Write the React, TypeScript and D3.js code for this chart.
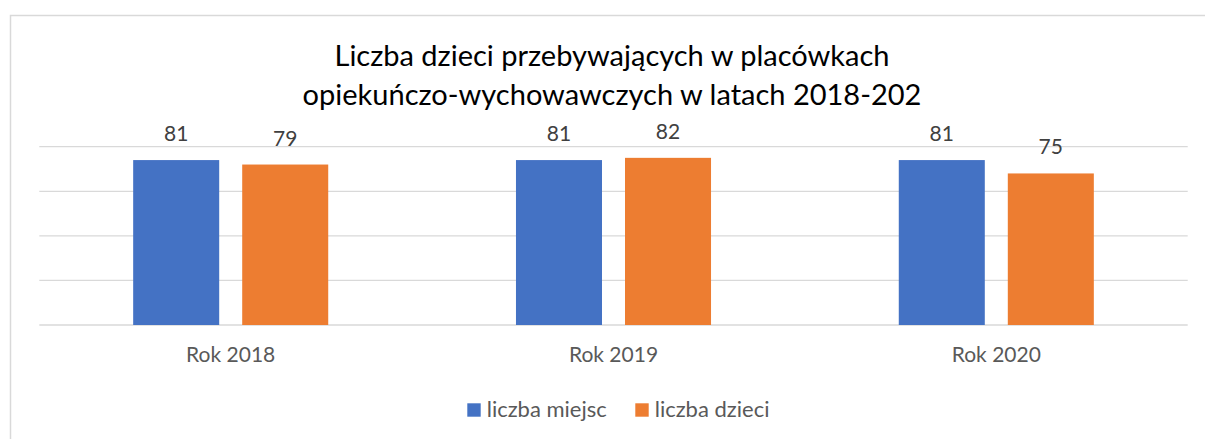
import React from "react";
import * as d3 from "d3";

const categories = ["Rok 2018", "Rok 2019", "Rok 2020"];
const seriesNames = ["liczba miejsc", "liczba dzieci"];
const miejsc = [81, 81, 81];
const dzieci = [79, 82, 75];
const titleLines = [
  "Liczba dzieci przebywających w placówkach",
  "opiekuńczo-wychowawczych w latach 2018-202",
];
const colors = ["#4472C4", "#ED7D31"];

const W = 1205;
const H = 439;
const FONT = "Lato, 'Open Sans', sans-serif";

export default function App() {
  const values = [miejsc, dzieci];
  const x0 = d3.scaleBand<string>().domain(categories).range([39.3, 1187.7]).paddingInner(0).paddingOuter(0);
  const x1 = d3
    .scaleBand<string>()
    .domain(seriesNames)
    .range([0, x0.bandwidth()])
    .paddingInner(0.211)
    .paddingOuter(0.861);
  const y = d3.scaleLinear().domain([7, 87]).range([325, 146.7]);
  const grid = d3.range(7, 88, 20);

  return (
    <svg
      width={W}
      height={H}
      style={{ position: "absolute", left: 0, top: 0, background: "#fff" }}
      fontFamily={FONT}
    >
      <rect x={0} y={0} width={W} height={H} fill="#fff" />
      <path d={`M10.5,${H} V15.5 H${W}`} fill="none" stroke="#d9d9d9" strokeWidth={1.5} />
      {titleLines.map((t, i) => (
        <text key={i} x={612} y={66 + i * 38.5} textAnchor="middle" fontSize={29} fill="#000">
          {t}
        </text>
      ))}
      {grid.map((g) => (
        <line key={g} x1={39.3} x2={1187.7} y1={y(g)} y2={y(g)} stroke="#d9d9d9" strokeWidth={1.3} />
      ))}
      {categories.map((c, ci) => (
        <g key={c} transform={`translate(${x0(c)},0)`}>
          {seriesNames.map((s, si) => {
            const v = values[si][ci];
            const bx = x1(s)!;
            return (
              <g key={s}>
                <rect x={bx} y={y(v)} width={x1.bandwidth()} height={y(7) - y(v)} fill={colors[si]} />
                <text
                  x={bx + x1.bandwidth() / 2}
                  y={y(v) - 19}
                  textAnchor="middle"
                  fontSize={21}
                  fill="#404040"
                >
                  {v}
                </text>
              </g>
            );
          })}
          <text x={x0.bandwidth() / 2} y={361.7} textAnchor="middle" fontSize={21} fill="#595959">
            {c}
          </text>
        </g>
      ))}
      {seriesNames.map((s, i) => {
        const lx = 467.3 + i * 168;
        return (
          <g key={s}>
            <rect x={lx} y={403.3} width={13.4} height={13.4} fill={colors[i]} />
            <text x={lx + 19.4} y={416.7} fontSize={22} fill="#595959">
              {s}
            </text>
          </g>
        );
      })}
    </svg>
  );
}
